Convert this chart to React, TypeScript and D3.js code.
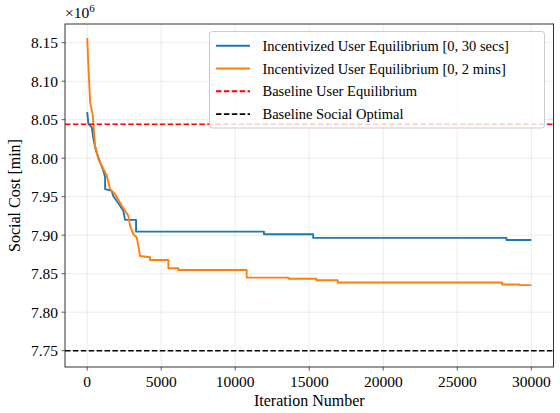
import React from "react";
import * as d3 from "d3";

const W = 560;
const H = 413;

// Iteration numbers and social cost (x10^6 min); repeated iterations mark step drops
const blueIter = [0, 80, 310, 420, 600, 870, 1093, 1208, 1208, 1660, 1750, 2220, 2440, 2557, 3300, 3300, 11940, 11940, 15265, 15265, 28330, 28330, 30000];
const blueCost = [8.0598, 8.0445, 8.0402, 8.025, 8.0094, 7.9947, 7.9837, 7.9755, 7.9599, 7.9577, 7.9512, 7.9382, 7.9316, 7.9199, 7.9199, 7.9046, 7.9046, 7.9013, 7.9013, 7.8965, 7.8965, 7.8938, 7.8938];

const orangeIter = [0, 80, 196, 378, 533, 756, 985, 1323, 1545, 1883, 2335, 2780, 2895, 3117, 3347, 3455, 3570, 4245, 4245, 5480, 5480, 6150, 6150, 10770, 10770, 13600, 13600, 15490, 15490, 16920, 16920, 28030, 28030, 29210, 29210, 30000];
const orangeCost = [8.1561, 8.1204, 8.0728, 8.0553, 8.0163, 7.999, 7.9902, 7.9772, 7.9599, 7.9534, 7.9382, 7.9251, 7.9121, 7.9013, 7.897, 7.8861, 7.873, 7.8714, 7.8678, 7.8678, 7.857, 7.857, 7.8548, 7.8548, 7.8449, 7.8449, 7.8434, 7.8434, 7.8415, 7.8415, 7.8385, 7.8385, 7.8359, 7.8359, 7.8352, 7.8352];

const baselineUE = 8.044;
const baselineSO = 7.75;

const xTicks = [0, 5000, 10000, 15000, 20000, 25000, 30000];
const yTicks = [7.75, 7.8, 7.85, 7.9, 7.95, 8.0, 8.05, 8.1, 8.15];

const legendLabels = [
  "Incentivized User Equilibrium [0, 30 secs]",
  "Incentivized User Equilibrium [0, 2 mins]",
  "Baseline User Equilibrium",
  "Baseline Social Optimal",
];

const margin = { left: 65, top: 24, right: 553.5, bottom: 367 };
const FONT = "'Liberation Serif', 'Times New Roman', serif";

export default function App() {
  const x = d3.scaleLinear().domain([-1500, 31500]).range([margin.left, margin.right]);
  const y = d3.scaleLinear().domain([7.7288, 8.1743]).range([margin.bottom, margin.top]);

  const line = d3
    .line<[number, number]>()
    .x((d) => x(d[0]))
    .y((d) => y(d[1]));

  const blueData: [number, number][] = blueIter.map((v, i) => [v, blueCost[i]]);
  const orangeData: [number, number][] = orangeIter.map((v, i) => [v, orangeCost[i]]);

  const pw = margin.right - margin.left;
  const ph = margin.bottom - margin.top;

  const legendStyles = [
    { color: "#1f77b4", dash: undefined },
    { color: "#ff7f0e", dash: undefined },
    { color: "#ff0000", dash: "5.5,2.4" },
    { color: "#000000", dash: "5.5,2.4" },
  ];

  return (
    <svg width={W} height={H} style={{ position: "absolute", left: 0, top: 0 }} fontFamily={FONT}>
      <rect x={0} y={0} width={W} height={H} fill="#fff" />
      <defs>
        <clipPath id="plotclip">
          <rect x={margin.left} y={margin.top} width={pw} height={ph} />
        </clipPath>
      </defs>
      {xTicks.map((t) => (
        <line key={"gx" + t} x1={x(t)} x2={x(t)} y1={margin.top} y2={margin.bottom} stroke="#b0b0b0" strokeOpacity={0.3} strokeWidth={0.8} />
      ))}
      {yTicks.map((t) => (
        <line key={"gy" + t} x1={margin.left} x2={margin.right} y1={y(t)} y2={y(t)} stroke="#b0b0b0" strokeOpacity={0.3} strokeWidth={0.8} />
      ))}
      <g clipPath="url(#plotclip)">
        <path d={line(blueData) || ""} fill="none" stroke="#1f77b4" strokeWidth={1.9} strokeLinejoin="round" />
        <path d={line(orangeData) || ""} fill="none" stroke="#ff7f0e" strokeWidth={1.9} strokeLinejoin="round" />
        <line x1={margin.left} x2={margin.right} y1={y(baselineUE)} y2={y(baselineUE)} stroke="#ff0000" strokeWidth={1.5} strokeDasharray="5.5,2.4" />
        <line x1={margin.left} x2={margin.right} y1={y(baselineSO)} y2={y(baselineSO)} stroke="#000" strokeWidth={1.5} strokeDasharray="5.5,2.4" />
      </g>
      <rect x={margin.left} y={margin.top} width={pw} height={ph} fill="none" stroke="#333" strokeWidth={1} />
      {xTicks.map((t) => (
        <g key={"xt" + t}>
          <line x1={x(t)} x2={x(t)} y1={margin.bottom} y2={margin.bottom + 3.5} stroke="#333" strokeWidth={0.8} />
          <text x={x(t)} y={margin.bottom + 20} textAnchor="middle" fontSize={15.5} fill="#000">
            {t}
          </text>
        </g>
      ))}
      {yTicks.map((t) => (
        <g key={"yt" + t}>
          <line x1={margin.left - 3.5} x2={margin.left} y1={y(t)} y2={y(t)} stroke="#333" strokeWidth={0.8} />
          <text x={margin.left - 7} y={y(t) + 5.5} textAnchor="end" fontSize={15.5} fill="#000">
            {d3.format(".2f")(t)}
          </text>
        </g>
      ))}
      <text x={margin.left} y={18} fontSize={15.5} fill="#000">
        ×10<tspan dy={-6} fontSize={11}>6</tspan>
      </text>
      <text x={(margin.left + margin.right) / 2} y={406} textAnchor="middle" fontSize={16} fill="#000">
        Iteration Number
      </text>
      <text transform={`translate(20,${(margin.top + margin.bottom) / 2}) rotate(-90)`} textAnchor="middle" fontSize={16} fill="#000">
        Social Cost [min]
      </text>
      <rect x={209.5} y={31.5} width={335} height={96.5} rx={3} fill="#fff" fillOpacity={0.8} stroke="#cccccc" strokeWidth={1} />
      {legendLabels.map((lab, i) => {
        const cy = 45.7 + i * 22.8;
        const s = legendStyles[i];
        return (
          <g key={lab}>
            <line x1={216} x2={250} y1={cy} y2={cy} stroke={s.color} strokeWidth={1.9} strokeDasharray={s.dash} />
            <text x={262.5} y={cy + 5} fontSize={14.5} fill="#000">
              {lab}
            </text>
          </g>
        );
      })}
    </svg>
  );
}
